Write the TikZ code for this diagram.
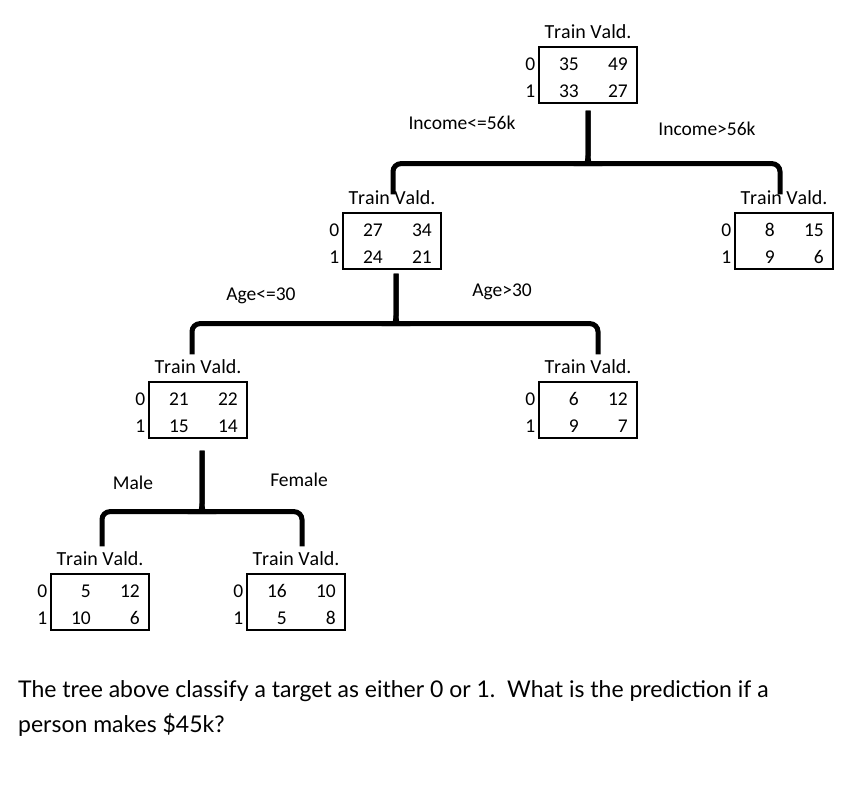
\documentclass[tikz,border=0pt]{standalone}
\usepackage{fontspec}
\setmainfont{Carlito}
\newfontfamily\questionfont{Lato}
\newfontfamily\headfont[Kerning=Off]{Carlito}
\usetikzlibrary{positioning,calc}

\begin{document}
\begin{tikzpicture}[
  x=1pt, y=1pt,
  table/.style={
    rectangle,
    draw=black,
    line width=1.3pt,
    minimum width=98pt,
    minimum height=56pt,
    inner sep=0pt
  },
  head/.style={font=\headfont\fontsize{20}{22}\selectfont, inner sep=1pt},
  cell/.style={font=\fontsize{19.5}{22}\selectfont, anchor=east, inner sep=0pt},
  split/.style={font=\fontsize{19.5}{22}\selectfont, inner sep=0pt},
  brace/.style={line width=5pt, draw=black, rounded corners=8pt}
]
\useasboundingbox (0,0) rectangle (863,786);

% tables: name / x / y / train0 / vald0 / train1 / vald1
\foreach \name/\x/\y/\ta/\va/\tb/\vb in {
  root/588/711/35/49/33/27,
  incLo/392/545/27/34/24/21,
  incHi/784/545/8/15/9/6,
  ageLo/198/376/21/22/15/14,
  ageHi/588/376/6/12/9/7,
  male/100/184/5/12/10/6,
  female/296/184/16/10/5/8}{
  \node[table] (\name) at (\x,\y) {};
  \node[head, above=6pt of \name] (\name-head) {Train Vald.};
  \node[cell] (\name-zero) at ([xshift=-3pt,yshift=11pt]\name.west) {0};
  \node[cell] (\name-one) at ([xshift=-3pt,yshift=-16pt]\name.west) {1};
  \node[cell] (\name-ta) at ([xshift=-9pt,yshift=11pt]\name.center) {\ta};
  \node[cell] (\name-va) at ([xshift=40pt,yshift=11pt]\name.center) {\va};
  \node[cell] (\name-tb) at ([xshift=-9pt,yshift=-16pt]\name.center) {\tb};
  \node[cell] (\name-vb) at ([xshift=40pt,yshift=-16pt]\name.center) {\vb};
}

% income split
\draw[brace] ([xshift=1pt,yshift=18pt]incLo.north) |- ($(root.south)+(-7,-60)$)
  [sharp corners] .. controls +(5,0) and +(0,-5) .. ($(root.south)+(0,-52)$)
  -- ([yshift=-7pt]root.south);
\draw[brace] ([xshift=-4pt,yshift=18pt]incHi.north) |- ($(root.south)+(7,-60)$)
  [sharp corners] .. controls +(-5,0) and +(0,-5) .. ($(root.south)+(0,-52)$)
  -- ([yshift=-7pt]root.south);

% age split
\draw[brace] ([xshift=-6pt,yshift=27pt]ageLo.north) |- ($(incLo.south)+(-3,-54)$)
  [sharp corners] .. controls +(5,0) and +(0,-5) .. ($(incLo.south)+(4,-46)$)
  -- ([xshift=4pt,yshift=-4pt]incLo.south);
\draw[brace] ([xshift=10pt,yshift=27pt]ageHi.north) |- ($(incLo.south)+(11,-54)$)
  [sharp corners] .. controls +(-5,0) and +(0,-5) .. ($(incLo.south)+(4,-46)$)
  -- ([xshift=4pt,yshift=-4pt]incLo.south);

% gender split
\draw[brace] ([xshift=2pt,yshift=27pt]male.north) |- ($(ageLo.south)+(-3,-73)$)
  [sharp corners] .. controls +(5,0) and +(0,-5) .. ($(ageLo.south)+(4,-65)$)
  -- ([xshift=4pt,yshift=-12pt]ageLo.south);
\draw[brace] ([xshift=6pt,yshift=27pt]female.north) |- ($(ageLo.south)+(11,-73)$)
  [sharp corners] .. controls +(-5,0) and +(0,-5) .. ($(ageLo.south)+(4,-65)$)
  -- ([xshift=4pt,yshift=-12pt]ageLo.south);

\node[split] (incLo-label) at (462,663) {Income<=56k};
\node[split] (incHi-label) at (707,657) {Income>56k};
\node[split] (ageLo-label) at (261,490) {Age<=30};
\node[split] (ageHi-label) at (502,494) {Age>30};
\node[split] (male-label) at (133,303) {Male};
\node[split] (female-label) at (299,306) {Female};

\node[anchor=north west, align=left, inner sep=0pt,
  font=\questionfont\fontsize{23}{35}\selectfont] (question) at (18,106)
  {The tree above classify a target as either 0 or 1.\ \ What is the prediction if a\\
   person makes \$45k?};
\end{tikzpicture}
\end{document}
